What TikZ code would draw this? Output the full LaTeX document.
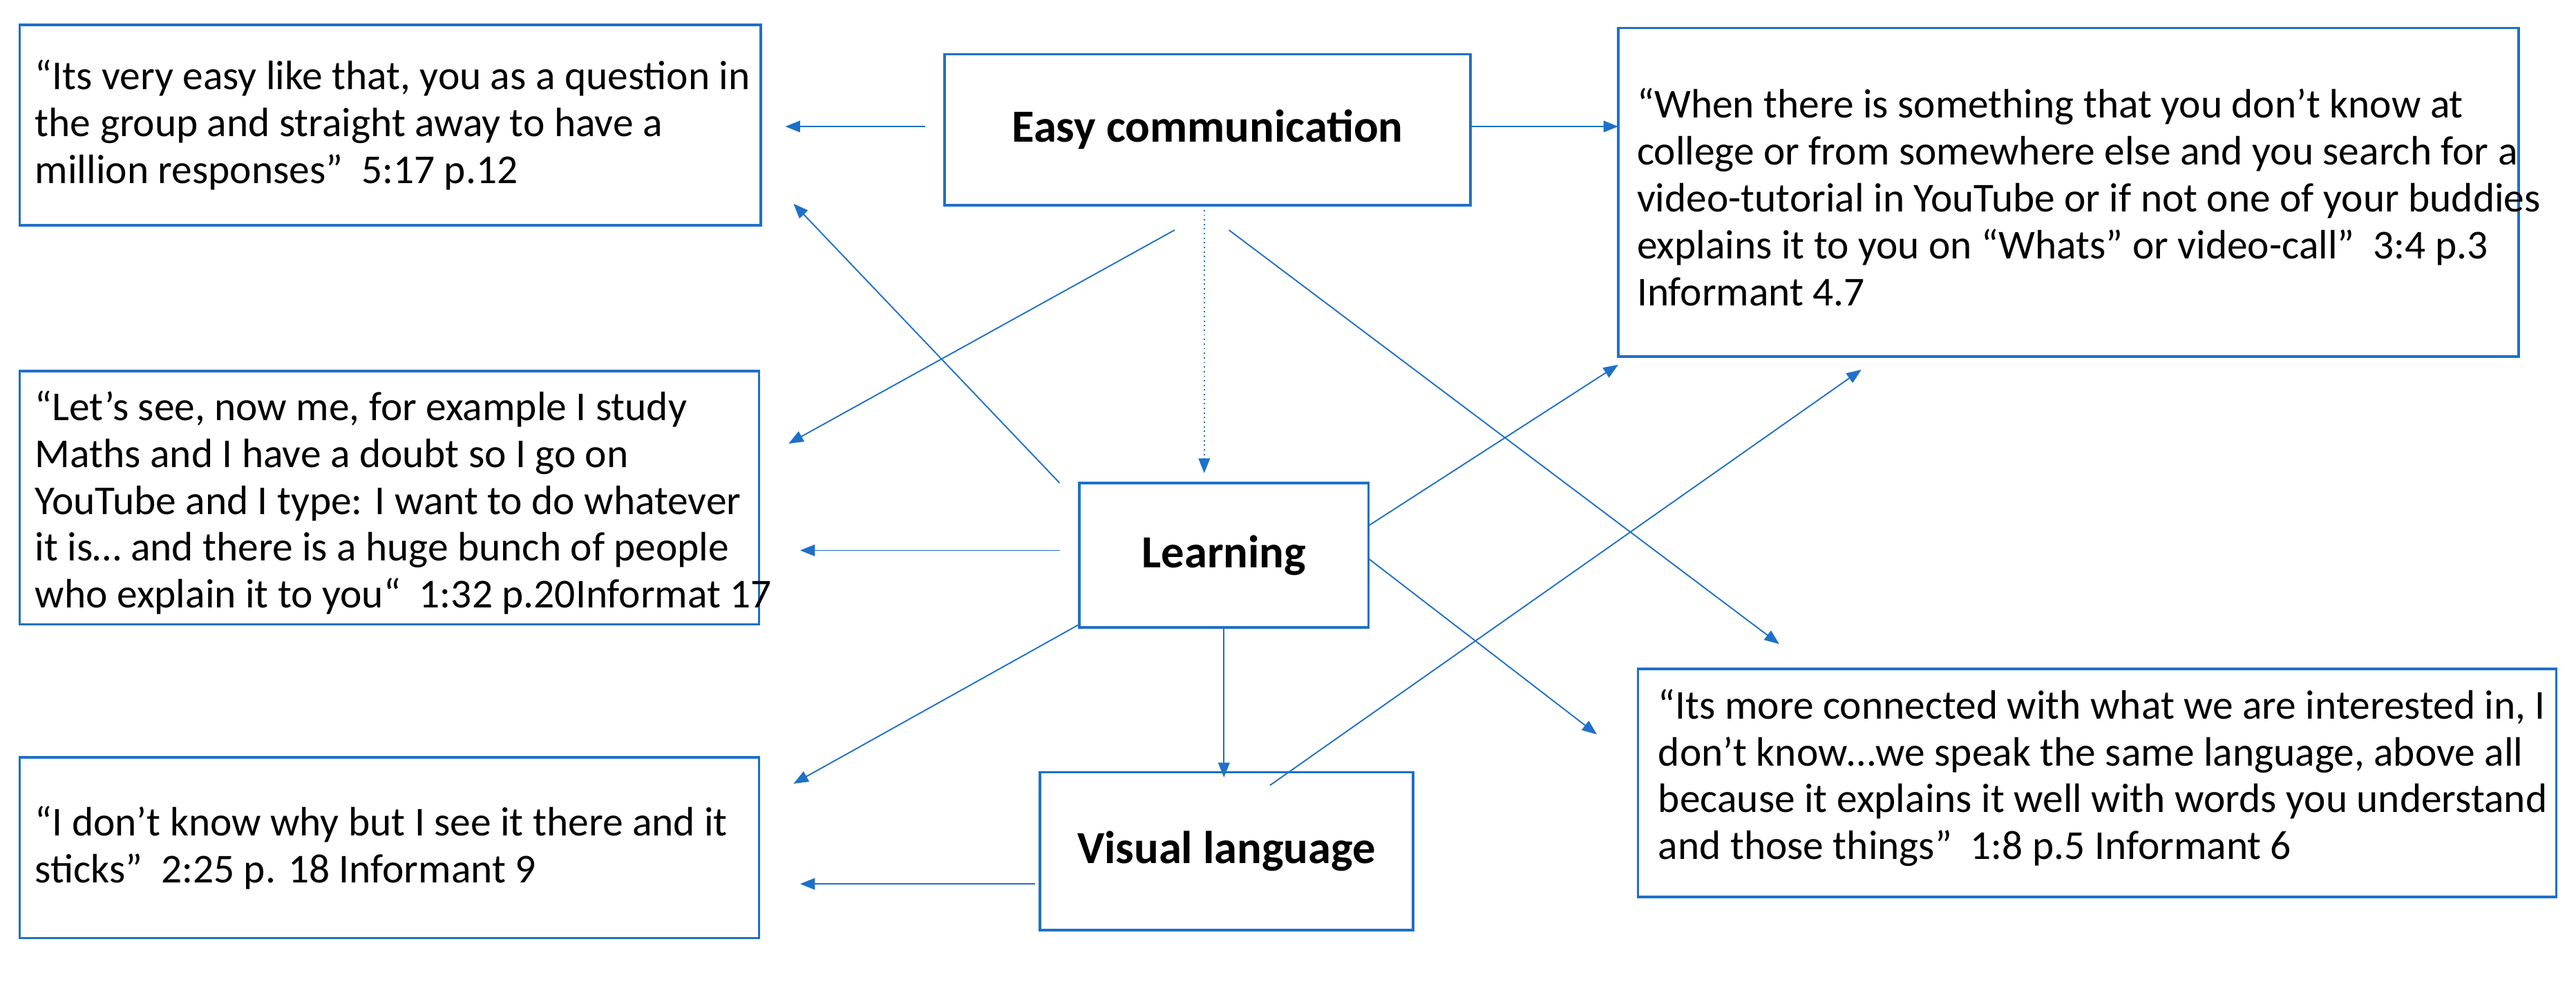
\documentclass[tikz,border=0pt]{standalone}
\usepackage{fontspec}
\setmainfont{Carlito}
\usetikzlibrary{arrows.meta}
\definecolor{bl}{RGB}{31,112,200}
\begin{document}
\begin{tikzpicture}[x=1pt,y=-1pt,
 box/.style={draw=bl,line width=1.6pt,rectangle,inner sep=0pt},
 txt/.style={anchor=west,inner sep=0pt,align=left,font=\fontsize{25}{28.5}\selectfont},
 hb/.style={draw=bl,line width=1.6pt,rectangle,inner sep=0pt,align=center,font=\fontsize{28}{30}\selectfont\bfseries},
 ar/.style={draw=bl,line width=0.8pt,-{Triangle[length=9pt,width=7pt]}}]
\useasboundingbox (0,0) rectangle (1568,604);
\node[box,minimum width=451,minimum height=122] (q1) at (237.5,76) {};
\node[txt] (q1t) at ([xshift=10]q1.west) {“Its very easy like that, you as a question in\\the group and straight away to have a\\million responses”\ \ 5:17 p.12};
\node[hb,minimum width=320,minimum height=92] (ec) at (735,79) {Easy communication};
\node[box,minimum width=548,minimum height=200] (q2) at (1259,117) {};
\node[txt] (q2t) at ([xshift=12,yshift=-3]q2.west) {“When there is something that you don’t know at\\college or from somewhere else and you search for a\\video-tutorial in YouTube or if not one of your buddies\\explains it to you on “Whats” or video-call”\ \ 3:4 p.3\\Informant 4.7};
\node[box,minimum width=450,minimum height=154] (q3) at (237,303) {};
\node[txt] (q3t) at ([xshift=10,yshift=-3]q3.west) {“Let’s see, now me, for example I study\\Maths and I have a doubt so I go on\\YouTube and I type: I want to do whatever\\it is… and there is a huge bunch of people\\who explain it to you“\ \ 1:32 p.20Informat 17};
\node[hb,minimum width=176,minimum height=88] (le) at (745,338) {Learning};
\node[hb,minimum width=227,minimum height=96] (vl) at (746.5,518) {Visual language};
\node[box,minimum width=450,minimum height=110] (q4) at (237,516) {};
\node[txt] (q4t) at ([xshift=10]q4.west) {“I don’t know why but I see it there and it\\sticks”\ \ 2:25 p. 18 Informant 9};
\node[box,minimum width=559,minimum height=139] (q5) at (1276.5,476.5) {};
\node[txt] (q5t) at ([xshift=13,yshift=3]q5.west) {“Its more connected with what we are interested in, I\\don’t know…we speak the same language, above all\\because it explains it well with words you understand\\and those things”\ \ 1:8 p.5 Informant 6};
\coordinate (a1) at (563,77); \coordinate (b1) at (478,77);
\coordinate (a2) at (895,77); \coordinate (b2) at (985,77);
\coordinate (a3) at (733,125); \coordinate (b3) at (733,288);
\coordinate (a4) at (715,140); \coordinate (b4) at (480,270);
\coordinate (a5) at (748,140); \coordinate (b5) at (1083,392);
\coordinate (a6) at (645,294); \coordinate (b6) at (483,124);
\coordinate (a7) at (645,335); \coordinate (b7) at (487,335);
\coordinate (a8) at (833,320); \coordinate (b8) at (985,222);
\coordinate (a9) at (833,340); \coordinate (b9) at (972,447);
\coordinate (a10) at (657,380); \coordinate (b10) at (483,477);
\coordinate (a12) at (773,478); \coordinate (b12) at (1133,225);
\coordinate (a13) at (630,538); \coordinate (b13) at (487,538);
\draw[ar] (a1) -- (b1);
\draw[ar] (a2) -- (b2);
\draw[ar,dotted] (a3) -- (b3);
\draw[ar] (a4) -- (b4);
\draw[ar] (a5) -- (b5);
\draw[ar] (a6) -- (b6);
\draw[ar] (a7) -- (b7);
\draw[ar] (a8) -- (b8);
\draw[ar] (a9) -- (b9);
\draw[ar] (a10) -- (b10);
\draw[ar] (le.south) -- ([yshift=-4]vl.north -| le.south);
\draw[ar] (a12) -- (b12);
\draw[ar] (a13) -- (b13);
\end{tikzpicture}
\end{document}
